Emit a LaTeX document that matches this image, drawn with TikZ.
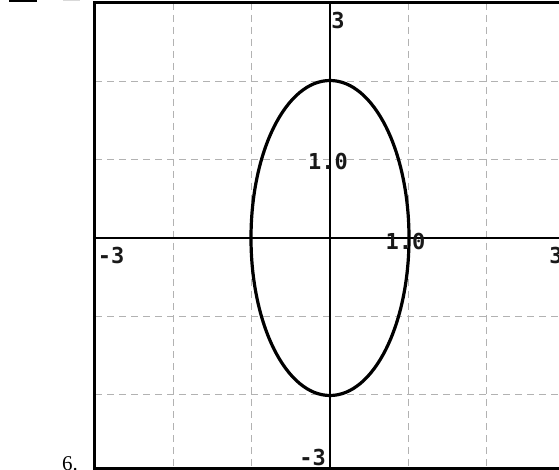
\documentclass[tikz,border=0pt]{standalone}
\usepackage{fontspec}
\setmainfont{Liberation Serif}
\newfontfamily\monob{DejaVu Sans Mono}
\begin{document}
\begin{tikzpicture}[x=1pt,y=-1pt,
  gridline/.style={draw=black!30,line width=1pt,dash pattern=on 7pt off 5pt},
  axisline/.style={draw=black,line width=1.6pt},
  framebox/.style={draw=black,line width=2.8pt},
  curve/.style={draw=black,line width=3.2pt},
  ticklbl/.style={font=\monob\bfseries\fontsize{22}{22}\selectfont,inner sep=0pt,text=black!90},
  numlbl/.style={font=\fontsize{21}{21}\selectfont,inner sep=0pt,anchor=base west}]
\useasboundingbox (0,0) rectangle (559,470);
\fill[white] (0,0) rectangle (559,470);
\begin{scope}
\clip (0,0) rectangle (559,470);
% remnants at top-left
\fill[black] (9,0) rectangle (37,2.2);
\fill[black!15] (63,0) rectangle (80,1.5);
% grid
\foreach \gx in {173.4,251.7,408.3,486.6,564.9}
  \draw[gridline] (\gx,3) -- (\gx,468);
\foreach \gy in {81.4,159.7,316.3,394.6}
  \draw[gridline] (95,\gy) -- (565,\gy);
% frame
\draw[framebox] (564.9,2.3) -- (94.5,2.3) -- (94.5,468.5) -- (564.9,468.5);
% axes
\coordinate (xl) at (94.5,238);
\coordinate (xr) at (565,238);
\coordinate (yt) at (330,2.3);
\coordinate (yb) at (330,468.5);
\draw[axisline] (xl) -- (xr);
\draw[axisline] (yt) -- (yb);
% ellipse
\coordinate (c) at (330,238);
\draw[curve] (c) ellipse [x radius=79, y radius=157.5];
\end{scope}
% labels
\node[ticklbl] (ytop) at (338,20.5) {3};
\node[ticklbl] (yone) at (328,161.5) {1.0};
\node[ticklbl] (xone) at (405.5,241.5) {1.0};
\node[ticklbl] (xneg) at (111,255) {-3};
\node[ticklbl] (xpos) at (556,255.5) {3};
\node[ticklbl] (yneg) at (312.5,457.5) {-3};
\node[numlbl] (num) at (62,470) {6.};
\end{tikzpicture}
\end{document}
